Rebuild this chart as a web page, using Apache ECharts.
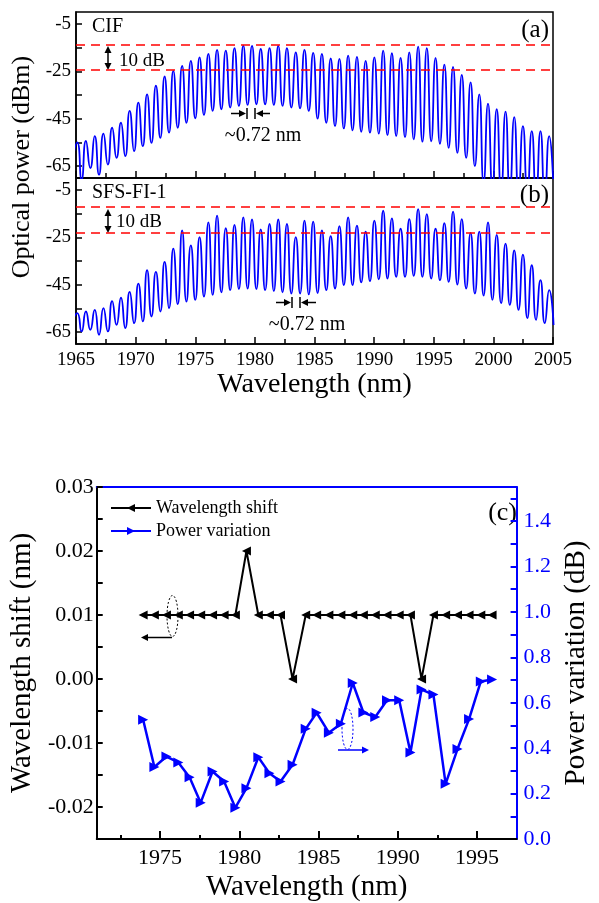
<!DOCTYPE html>
<html>
<head>
<meta charset="utf-8">
<script src="https://cdn.jsdelivr.net/npm/echarts@6/dist/echarts.min.js"></script>
<style>
  html, body { margin: 0; padding: 0; background: #fff; }
  #main { width: 599px; height: 903px; }
</style>
</head>
<body>
<div id="main"></div>
<script>
// fringe positions (nm), peaks and the valleys between them
var peakWave = [1965.10, 1965.83, 1966.57, 1967.30, 1968.03, 1968.77, 1969.50, 1970.23, 1970.96, 1971.70,
  1972.43, 1973.16, 1973.90, 1974.63, 1975.36, 1976.10, 1976.83, 1977.56, 1978.29, 1979.03,
  1979.76, 1980.49, 1981.23, 1981.96, 1982.69, 1983.43, 1984.16, 1984.89, 1985.62, 1986.36,
  1987.09, 1987.82, 1988.56, 1989.29, 1990.02, 1990.76, 1991.49, 1992.22, 1992.95, 1993.69,
  1994.42, 1995.15, 1995.89, 1996.62, 1997.35, 1998.09, 1998.82, 1999.55, 2000.28, 2001.02,
  2001.75, 2002.48, 2003.22, 2003.95, 2004.68];
var valleyWave = [1964.73, 1965.47, 1966.20, 1966.93, 1967.67, 1968.40, 1969.13, 1969.87, 1970.60, 1971.33,
  1972.07, 1972.80, 1973.53, 1974.26, 1975.00, 1975.73, 1976.46, 1977.19, 1977.93, 1978.66,
  1979.39, 1980.13, 1980.86, 1981.59, 1982.32, 1983.06, 1983.79, 1984.52, 1985.26, 1985.99,
  1986.72, 1987.46, 1988.19, 1988.92, 1989.65, 1990.39, 1991.12, 1991.85, 1992.59, 1993.32,
  1994.05, 1994.79, 1995.52, 1996.25, 1996.98, 1997.72, 1998.45, 1999.18, 1999.92, 2000.65,
  2001.38, 2002.11, 2002.85, 2003.58, 2004.31, 2005.05];

// (a) CIF spectrum, dBm
var cifPeak = [-55, -54.4, -52.3, -51.3, -48.8, -46.7, -41.7, -38.2, -34.7, -31.1,
  -27.2, -24.8, -22.7, -20.6, -19.1, -17.7, -16, -16.3, -15.2, -14.2,
  -14.3, -15.6, -15.2, -14.3, -15.2, -17, -16, -17.2, -17.7, -19.6,
  -19.8, -18.4, -18.9, -20.6, -19.1, -16.3, -17.4, -19.4, -17, -14.6,
  -15.2, -19.4, -22.2, -23.1, -26.5, -29.7, -34.7, -38.6, -41, -42,
  -44.3, -48.1, -50.2, -50.2, -52.3];
var cifValley = [-62, -70.7, -65.8, -68.6, -64.3, -61.5, -60.8, -58.7, -56.6, -55.2,
  -53.1, -50.9, -48.8, -46.7, -44.8, -43.4, -41.7, -41, -40.3, -39.6,
  -39.2, -38.9, -38.9, -39.2, -39.6, -40.3, -40.6, -41.7, -45, -46.7,
  -48.1, -49.1, -49.9, -50.5, -50.9, -51.3, -51.9, -52.3, -52.8, -53.7,
  -54.7, -54.5, -55.6, -57.3, -59.4, -61.5, -65, -72, -74, -76,
  -76, -77, -76, -78, -78, -76];

// (b) SFS-FI-1 spectrum, dBm
var sfsPeak = [-57, -56.3, -55.6, -54.9, -51.9, -50.5, -48, -44.5, -38.9, -39.6,
  -35.4, -29.8, -22.1, -28.4, -24.9, -18.7, -15.9, -21.2, -19.8, -16.6,
  -17.5, -21.7, -19.4, -17.5, -19.4, -24.9, -18, -18.4, -22.1, -24.5,
  -20.3, -16.6, -20.1, -22.6, -18, -13.8, -17, -21.4, -17.3, -13.1,
  -15.2, -21.4, -19, -14.2, -17.3, -23.1, -22.6, -18.7, -24, -27.7,
  -30.5, -32.3, -36.8, -43.1, -47.3];
var sfsValley = [-60, -64.7, -64, -66.1, -64.7, -61.9, -63.3, -61.2, -60.5, -58.4,
  -56.3, -54.9, -53.2, -52.1, -51.4, -50, -49.3, -48.2, -47.3, -46.8,
  -46.6, -46.8, -47.3, -47.7, -48.2, -48.7, -48.7, -49.1, -48.5, -47.3,
  -46.6, -45.2, -45.2, -44, -43.5, -42.7, -42.4, -41.7, -41.7, -41.3,
  -41.7, -42.4, -43.1, -43.8, -44.9, -46.6, -48.7, -49.6, -51.4, -52.8,
  -53.5, -55.6, -59.1, -59.8, -61.2, -62];

// red guide levels (dBm)
var cifLevels = [-14, -24.4];
var sfsLevels = [-12.2, -22.9];

// (c) stability
var shiftWave = [1973.93, 1974.64, 1975.40, 1976.15, 1976.86, 1977.56, 1978.31, 1979.04, 1979.75, 1980.45,
  1981.20, 1981.90, 1982.60, 1983.36, 1984.19, 1984.88, 1985.65, 1986.41, 1987.16, 1987.83,
  1988.58, 1989.32, 1990.09, 1990.80, 1991.50, 1992.25, 1993.02, 1993.77, 1994.50, 1995.24, 1995.95];
var shiftValue = [0.01, 0.01, 0.01, 0.01, 0.01, 0.01, 0.01, 0.01, 0.01, 0.02,
  0.01, 0.01, 0.01, 0.00, 0.01, 0.01, 0.01, 0.01, 0.01, 0.01,
  0.01, 0.01, 0.01, 0.01, 0.00, 0.01, 0.01, 0.01, 0.01, 0.01, 0.01];
var powerValue = [0.525, 0.317, 0.363, 0.337, 0.272, 0.160, 0.297, 0.253, 0.138, 0.224,
  0.360, 0.290, 0.253, 0.327, 0.485, 0.556, 0.468, 0.508, 0.687, 0.557,
  0.537, 0.611, 0.611, 0.381, 0.658, 0.636, 0.243, 0.396, 0.528, 0.694, 0.702];

// tick labels
var powerLabels = [-65, -45, -25, -5];
var powerTicks = [-65, -55, -45, -35, -25, -15, -5];
var shiftLabels = [-0.02, -0.01, 0, 0.01, 0.02, 0.03];
var shiftTicks = [-0.025, -0.02, -0.015, -0.01, -0.005, 0, 0.005, 0.01, 0.015, 0.02, 0.025, 0.03];
var varLabels = [0, 0.2, 0.4, 0.6, 0.8, 1.0, 1.2, 1.4];
var varTicks = [0.1, 0.2, 0.3, 0.4, 0.5, 0.6, 0.7, 0.8, 0.9, 1.0, 1.1, 1.2, 1.3, 1.4, 1.5];
var wlLabels = [1975, 1980, 1985, 1990, 1995];
var wlMinor = [1972.5, 1977.5, 1982.5, 1987.5, 1992.5];

var FONT = '"Liberation Serif", "Times New Roman", serif';
var BLUE = '#0000ff';

function spectrum(peaks, valleys) {
    var pts = [];
    for (var k = 0; k < valleys.length; k++) {
        pts.push([valleyWave[k], valleys[k]]);
        if (k < peaks.length) pts.push([peakWave[k], peaks[k]]);
    }
    return pts;
}
function pairs(xs, ys) {
    return xs.map(function (x, i) { return [x, ys[i]]; });
}
function plain(v) { return String(v); }

//箭头: line with a head at (x2, y2)
function arrow(x1, y1, x2, y2, color) {
    var ang = Math.atan2(y2 - y1, x2 - x1);
    var L = 7, W = 3.5;
    var bx = x2 - L * Math.cos(ang), by = y2 - L * Math.sin(ang);
    return [
        { type: 'line', shape: { x1: x1, y1: y1, x2: bx, y2: by }, style: { stroke: color, lineWidth: 1.5 } },
        { type: 'polygon', shape: { points: [[x2, y2], [bx + W * Math.sin(ang), by - W * Math.cos(ang)], [bx - W * Math.sin(ang), by + W * Math.cos(ang)]] }, style: { fill: color } }
    ];
}
function vbar(x, y1, y2) {
    return { type: 'line', shape: { x1: x, y1: y1, x2: x, y2: y2 }, style: { stroke: '#000', lineWidth: 1.5 } };
}
function label(text, x, y, size, align, color) {
    return { type: 'text', x: x, y: y, style: { text: text, font: size + 'px ' + FONT, fill: color || '#000', textAlign: align || 'left', textVerticalAlign: 'middle' } };
}

var graphics = [
    { type: 'text', x: 22, y: 167, rotation: Math.PI / 2, style: { text: 'Optical power (dBm)', font: '26px ' + FONT, fill: '#000', textAlign: 'center', textVerticalAlign: 'middle' } },
    label('CIF', 92, 27, 20),
    label('(a)', 549, 30, 25, 'right'),
    label('10 dB', 119, 61, 19),
    label('~0.72 nm', 263, 136, 20, 'center'),
    vbar(247, 108, 119), vbar(255, 108, 119),
    label('SFS-FI-1', 92, 193, 20),
    label('(b)', 549, 195, 25, 'right'),
    label('10 dB', 116, 222, 19),
    label('~0.72 nm', 307, 325, 20, 'center'),
    vbar(292, 297, 308), vbar(300, 297, 308),
    label('(c)', 517, 513, 26, 'right'),
    { type: 'ellipse', shape: { cx: 172.5, cy: 616, rx: 5.5, ry: 20.5 }, style: { fill: 'none', stroke: '#000', lineWidth: 1, lineDash: [2, 2] } },
    { type: 'ellipse', shape: { cx: 347.5, cy: 729, rx: 5.5, ry: 20.5 }, style: { fill: 'none', stroke: BLUE, lineWidth: 1, lineDash: [2, 2] } }
];
graphics = graphics
    .concat(arrow(108, 58, 108, 46, '#000')).concat(arrow(108, 58, 108, 70, '#000'))
    .concat(arrow(231, 113.5, 246, 113.5, '#000')).concat(arrow(270, 113.5, 256, 113.5, '#000'))
    .concat(arrow(108, 221, 108, 209, '#000')).concat(arrow(108, 221, 108, 233, '#000'))
    .concat(arrow(276, 302.5, 291, 302.5, '#000')).concat(arrow(316, 302.5, 301, 302.5, '#000'))
    .concat(arrow(172, 637.5, 141, 637.5, '#000'))
    .concat(arrow(338, 750, 369, 750, BLUE));

function specXAxis(grid, showLabel) {
    return {
        type: 'value', gridIndex: grid, min: 1965, max: 2005, interval: 5,
        axisLine: { onZero: false, lineStyle: { color: '#000', width: 1.5 } },
        axisTick: { inside: true, length: 7, lineStyle: { color: '#000', width: 1.5 } },
        minorTick: { show: true, splitNumber: 2, length: 5, lineStyle: { color: '#000', width: 1.5 } },
        splitLine: { show: false },
        axisLabel: { show: showLabel, color: '#000', fontFamily: FONT, fontSize: 19, margin: 7, formatter: plain },
        name: showLabel ? 'Wavelength (nm)' : '',
        nameLocation: 'middle', nameGap: 26,
        nameTextStyle: { color: '#000', fontFamily: FONT, fontSize: 28 }
    };
}
function specYAxis(grid) {
    return {
        type: 'value', gridIndex: grid, min: -70, max: 0,
        axisLine: { show: true, onZero: false, lineStyle: { color: '#000', width: 1.5 } },
        axisTick: { inside: true, length: 6, customValues: powerTicks, lineStyle: { color: '#000', width: 1.5 } },
        splitLine: { show: false },
        axisLabel: { customValues: powerLabels, color: '#000', fontFamily: FONT, fontSize: 19, margin: 5 }
    };
}
function levelLines(levels) {
    return {
        silent: true, symbol: ['none', 'none'], label: { show: false },
        lineStyle: { color: '#ff0000', type: [9, 6], width: 1.5 },
        data: levels.map(function (v) { return { yAxis: v }; })
    };
}

var myChart = echarts.init(document.getElementById('main'));
var option = {
    animation: false,
    backgroundColor: '#fff',
    grid: [
        { left: 76, top: 12, width: 477, height: 166, show: true, borderColor: '#000', borderWidth: 1.5 },
        { left: 76, top: 178, width: 477, height: 166, show: true, borderColor: '#000', borderWidth: 1.5 },
        { left: 94, top: 487, width: 438, height: 352 }
    ],
    legend: {
        orient: 'vertical', left: 105, top: 494, itemWidth: 40, itemHeight: 10, itemGap: 5,
        textStyle: { color: '#000', fontFamily: FONT, fontSize: 18 },
        data: ['Wavelength shift', 'Power variation']
    },
    xAxis: [
        specXAxis(0, false),
        specXAxis(1, true),
        {
            type: 'value', gridIndex: 2, min: 1971, max: 1997.5,
            axisLine: { onZero: false, lineStyle: { color: '#000', width: 2 } },
            axisTick: { inside: true, length: 8, customValues: wlLabels, lineStyle: { color: '#000', width: 2 } },
            splitLine: { show: false },
            axisLabel: { customValues: wlLabels, color: '#000', fontFamily: FONT, fontSize: 22, margin: 8, formatter: plain },
            name: 'Wavelength (nm)', nameLocation: 'middle', nameGap: 34,
            nameTextStyle: { color: '#000', fontFamily: FONT, fontSize: 29 }
        },
        {
            type: 'value', gridIndex: 2, min: 1971, max: 1997.5, position: 'bottom',
            axisLine: { show: false, onZero: false },
            axisTick: { inside: true, length: 4, customValues: wlMinor, lineStyle: { color: '#000', width: 2 } },
            axisLabel: { show: false }, splitLine: { show: false }
        },
        {
            type: 'value', gridIndex: 2, min: 1971, max: 1997.5, position: 'top',
            axisLine: { onZero: false, lineStyle: { color: BLUE, width: 2 } },
            axisTick: { show: false }, axisLabel: { show: false }, splitLine: { show: false }
        }
    ],
    yAxis: [
        specYAxis(0),
        specYAxis(1),
        {
            type: 'value', gridIndex: 2, position: 'left', min: -0.025, max: 0.03,
            axisLine: { show: true, onZero: false, lineStyle: { color: '#000', width: 2 } },
            axisTick: { inside: true, length: 6, customValues: shiftTicks, lineStyle: { color: '#000', width: 2 } },
            splitLine: { show: false },
            axisLabel: { customValues: shiftLabels, color: '#000', fontFamily: FONT, fontSize: 22, margin: 3,
                formatter: function (v) { return v.toFixed(2); } },
            name: 'Wavelength shift (nm)', nameLocation: 'middle', nameGap: 52,
            nameTextStyle: { color: '#000', fontFamily: FONT, fontSize: 29 }
        },
        {
            type: 'value', gridIndex: 2, position: 'right', min: 0, max: 1.55,
            axisLine: { show: true, onZero: false, lineStyle: { color: BLUE, width: 2 } },
            axisTick: { inside: true, length: 6, customValues: varTicks, lineStyle: { color: BLUE, width: 2 } },
            splitLine: { show: false },
            axisLabel: { customValues: varLabels, color: BLUE, fontFamily: FONT, fontSize: 22, margin: 7,
                formatter: function (v) { return v.toFixed(1); } },
            name: 'Power variation (dB)', nameLocation: 'middle', nameGap: 45, nameRotate: 90,
            nameTextStyle: { color: '#000', fontFamily: FONT, fontSize: 29 }
        }
    ],
    series: [
        {
            name: 'CIF', type: 'line', xAxisIndex: 0, yAxisIndex: 0, silent: true,
            data: spectrum(cifPeak, cifValley), smooth: 0.6, showSymbol: false,
            lineStyle: { color: BLUE, width: 1.8 },
            markLine: levelLines(cifLevels)
        },
        {
            name: 'SFS-FI-1', type: 'line', xAxisIndex: 1, yAxisIndex: 1, silent: true,
            data: spectrum(sfsPeak, sfsValley), smooth: 0.6, showSymbol: false,
            lineStyle: { color: BLUE, width: 1.8 },
            markLine: levelLines(sfsLevels)
        },
        {
            name: 'Wavelength shift', type: 'line', xAxisIndex: 2, yAxisIndex: 2, silent: true,
            data: pairs(shiftWave, shiftValue),
            symbol: 'triangle', symbolSize: 9, symbolRotate: 90,
            itemStyle: { color: '#000' }, lineStyle: { color: '#000', width: 2 }
        },
        {
            name: 'Power variation', type: 'line', xAxisIndex: 2, yAxisIndex: 3, silent: true,
            data: pairs(shiftWave, powerValue),
            symbol: 'triangle', symbolSize: 10, symbolRotate: -90,
            itemStyle: { color: BLUE }, lineStyle: { color: BLUE, width: 2.5 }
        }
    ],
    graphic: graphics
};
myChart.setOption(option);
</script>
</body>
</html>
